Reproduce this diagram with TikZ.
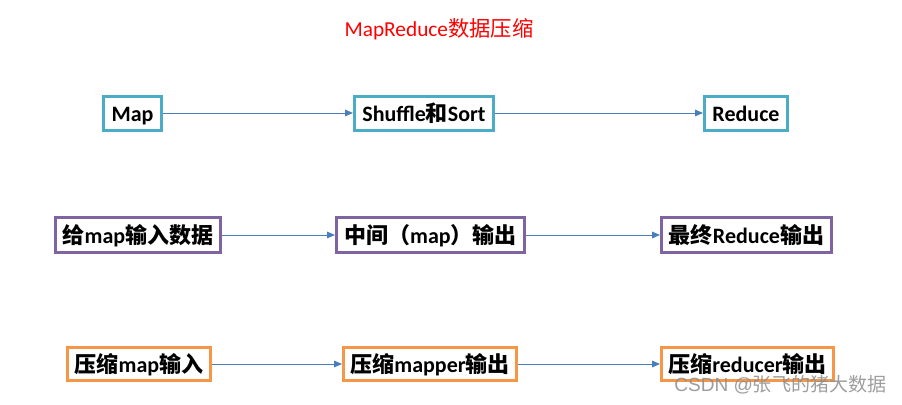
\documentclass[tikz,border=0pt]{standalone}
\usepackage{fontspec}
\setmainfont{Carlito}
\newfontfamily\cjk{Noto Sans CJK SC}
\newfontfamily\wmlat{Liberation Sans}
\newcommand{\zh}[1]{{\cjk #1}}
\usetikzlibrary{arrows.meta}
\definecolor{teal}{HTML}{4BACC6}
\definecolor{purp}{HTML}{8064A2}
\definecolor{oran}{HTML}{F79646}
\definecolor{arr}{HTML}{4A7EBB}
\begin{document}
\begin{tikzpicture}[x=0.75pt,y=-0.75pt,
  box/.style={draw,line width=2.25pt,inner sep=0pt,font=\fontsize{16.5}{18}\selectfont\bfseries,fill=white,text height=14pt,text depth=1.2pt},
  bt/.style={box,draw=teal,minimum height=25.5pt},
  bp/.style={box,draw=purp,minimum height=26.25pt},
  bo/.style={box,draw=oran,minimum height=24.75pt},
  conn/.style={draw=arr,line width=0.75pt,-{Triangle[length=6pt,width=5pt]}}]
\useasboundingbox (0,0) rectangle (902,404);
\node[text=red,font=\fontsize{16}{18}\selectfont] (title) at (439,29) {MapReduce\zh{数据压缩}};
% row 1
\node[bt,minimum width=43.5pt] (map) at (132.5,113) {Map};
\node[bt,minimum width=104.25pt] (shuf) at (424,113) {Shuffle\zh{\bfseries 和}Sort};
\node[bt,minimum width=62.25pt] (red) at (746,113) {Reduce};
% row 2
\node[bp,minimum width=123.75pt] (in) at (138,235) {\zh{\bfseries 给}map\zh{\bfseries 输入数据}};
\node[bp,minimum width=141pt] (mid) at (430.5,235) {\zh{\bfseries 中间（}map\zh{\bfseries ）输出}};
\node[bp,minimum width=127.5pt] (out) at (746.5,235) {\zh{\bfseries 最终}Reduce\zh{\bfseries 输出}};
% row 3
\node[bo,minimum width=107.25pt] (cin) at (139,364) {\zh{\bfseries 压缩}map\zh{\bfseries 输入}};
\node[bo,minimum width=129.75pt] (cmid) at (430,364) {\zh{\bfseries 压缩}mapper\zh{\bfseries 输出}};
\node[bo,minimum width=129pt] (cout) at (747.5,364) {\zh{\bfseries 压缩}reducer\zh{\bfseries 输出}};
\draw[conn] (map) -- (shuf);
\draw[conn] (shuf) -- (red);
\draw[conn] (in) -- (mid);
\draw[conn] (mid) -- (out);
\draw[conn] (cin) -- (cmid);
\draw[conn] (cmid) -- (cout);
\node[text=black!45,opacity=0.85,font=\fontsize{14.3}{16}\selectfont,anchor=west,inner sep=0pt] (wm) at (674,385) {\wmlat CSDN @\zh{张飞的猪大数据}};
\end{tikzpicture}
\end{document}
